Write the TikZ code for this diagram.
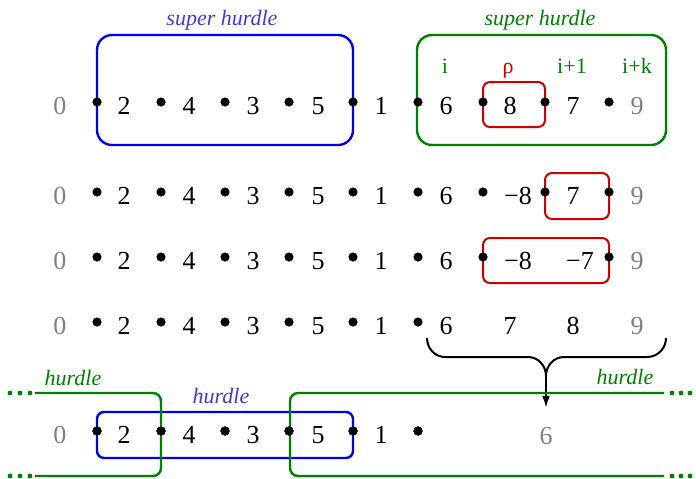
\documentclass[tikz,border=0pt]{standalone}
\usepackage{fontspec}
\setmainfont{Liberation Serif}
\usetikzlibrary{arrows.meta}
\definecolor{hblue}{RGB}{0,0,240}
\definecolor{lblue}{RGB}{60,60,220}
\definecolor{hgreen}{RGB}{0,128,0}
\definecolor{hred}{RGB}{204,0,0}
\tikzset{
  num/.style={font=\fontsize{13}{15}\selectfont, inner sep=0pt},
  lbl/.style={font=\fontsize{11}{13}\selectfont\itshape, anchor=base},
  idx/.style={font=\fontsize{11}{13}\selectfont, anchor=base, text=hgreen},
  hbox/.style={line width=1.2pt, rounded corners=7.5pt},
  rbox/.style={draw=hred, line width=1pt, rounded corners=3.5pt},
  pt/.style={radius=2.3pt}
}
\begin{document}
\begin{tikzpicture}[x=0.5pt,y=-0.5pt]
\useasboundingbox (0,0) rectangle (696,478);
% first row: the two super hurdles
\draw [hbox, hblue] (97,35) rectangle (353,145);
\draw [hbox, hgreen] (417,35) rectangle (666,145);
\draw [rbox] (483,82) rectangle (545,127);
\node [lbl, text=lblue] (sh1) at (222,25) {super hurdle};
\node [lbl, text=hgreen] (sh2) at (540,25) {super hurdle};
\node [idx] (i) at (445,73) {i};
\node [idx, text=hred] (rho) at (508,73) {ρ};
\node [idx] (i1) at (572,73) {i+1};
\node [idx] (ik) at (637,73) {i+k};
% red boxes of rows two and three
\draw [rbox] (545,173) rectangle (609,219);
\draw [rbox] (483,238) rectangle (609,283);
% the left part is the same in every row
\foreach \r/\y in {a/102, b/192, c/257, d/322, e/431} {
  \node [num, gray] (\r0) at (60,\y+4) {0};
  \foreach \v/\x in {2/124, 4/189, 3/253, 5/318, 1/381}
    \node [num] (\r\v) at (\x,\y+4) {\v};
  \foreach \x in {97,161,225,289,353,418}
    \fill (\x,\y) circle [pt];
}
% row a
\node [num] (a6) at (446,106) {6};
\node [num] (a8) at (510,106) {8};
\node [num] (a7) at (573,106) {7};
\node [num, gray] (a9) at (637,106) {9};
\foreach \x in {483,545,609} \fill (\x,102) circle [pt];
% row b
\node [num] (b6) at (446,196) {6};
\node [num] (b8) at (518,196) {−8};
\node [num] (b7) at (573,196) {7};
\node [num, gray] (b9) at (637,196) {9};
\foreach \x in {483,545,609} \fill (\x,192) circle [pt];
% row c
\node [num] (c6) at (446,261) {6};
\node [num] (c8) at (518,261) {−8};
\node [num] (c7) at (580,261) {−7};
\node [num, gray] (c9) at (637,261) {9};
\foreach \x in {483,609} \fill (\x,257) circle [pt];
% row d
\node [num] (d6) at (446,326) {6};
\node [num] (d7) at (510,326) {7};
\node [num] (d8) at (573,326) {8};
\node [num, gray] (d9) at (637,326) {9};
% brace and arrow
\draw [line width=1pt] (427,338) to[out=-90,in=180] (445,357) -- (528,357)
  to[out=0,in=90] (546,376) to[out=90,in=180] (564,357) -- (647,357)
  to[out=0,in=-90] (666,338);
\coordinate (tip) at (546,376);
\node [num, gray] (e6) at (546,436) {6};
\draw [line width=1pt, -{Latex[length=6pt,width=4pt]}, shorten >=9.5pt] (tip) -- (e6.north);
% last row: hurdles
\draw [hbox, hblue, rounded corners=3.5pt] (97,412) rectangle (353,458);
\draw [line width=1.2pt, hgreen, rounded corners=4pt] (35,393) -- (161,393) -- (161,476) -- (35,476);
\draw [line width=1.2pt, hgreen, rounded corners=4pt] (664,393) -- (290,393) -- (290,476) -- (664,476);
\foreach \x in {10,20,30,672,681,690} {
  \fill [hgreen] (\x,393) circle [radius=1.2pt];
  \fill [hgreen] (\x,476) circle [radius=1.2pt];
}
\foreach \x in {97,161,225,289,353,418} \fill (\x,431) circle [pt];
\node [lbl, text=hgreen] (h1) at (73,385) {hurdle};
\node [lbl, text=hgreen] (h2) at (625,384) {hurdle};
\node [lbl, text=lblue] (h3) at (221,403) {hurdle};
\end{tikzpicture}
\end{document}
